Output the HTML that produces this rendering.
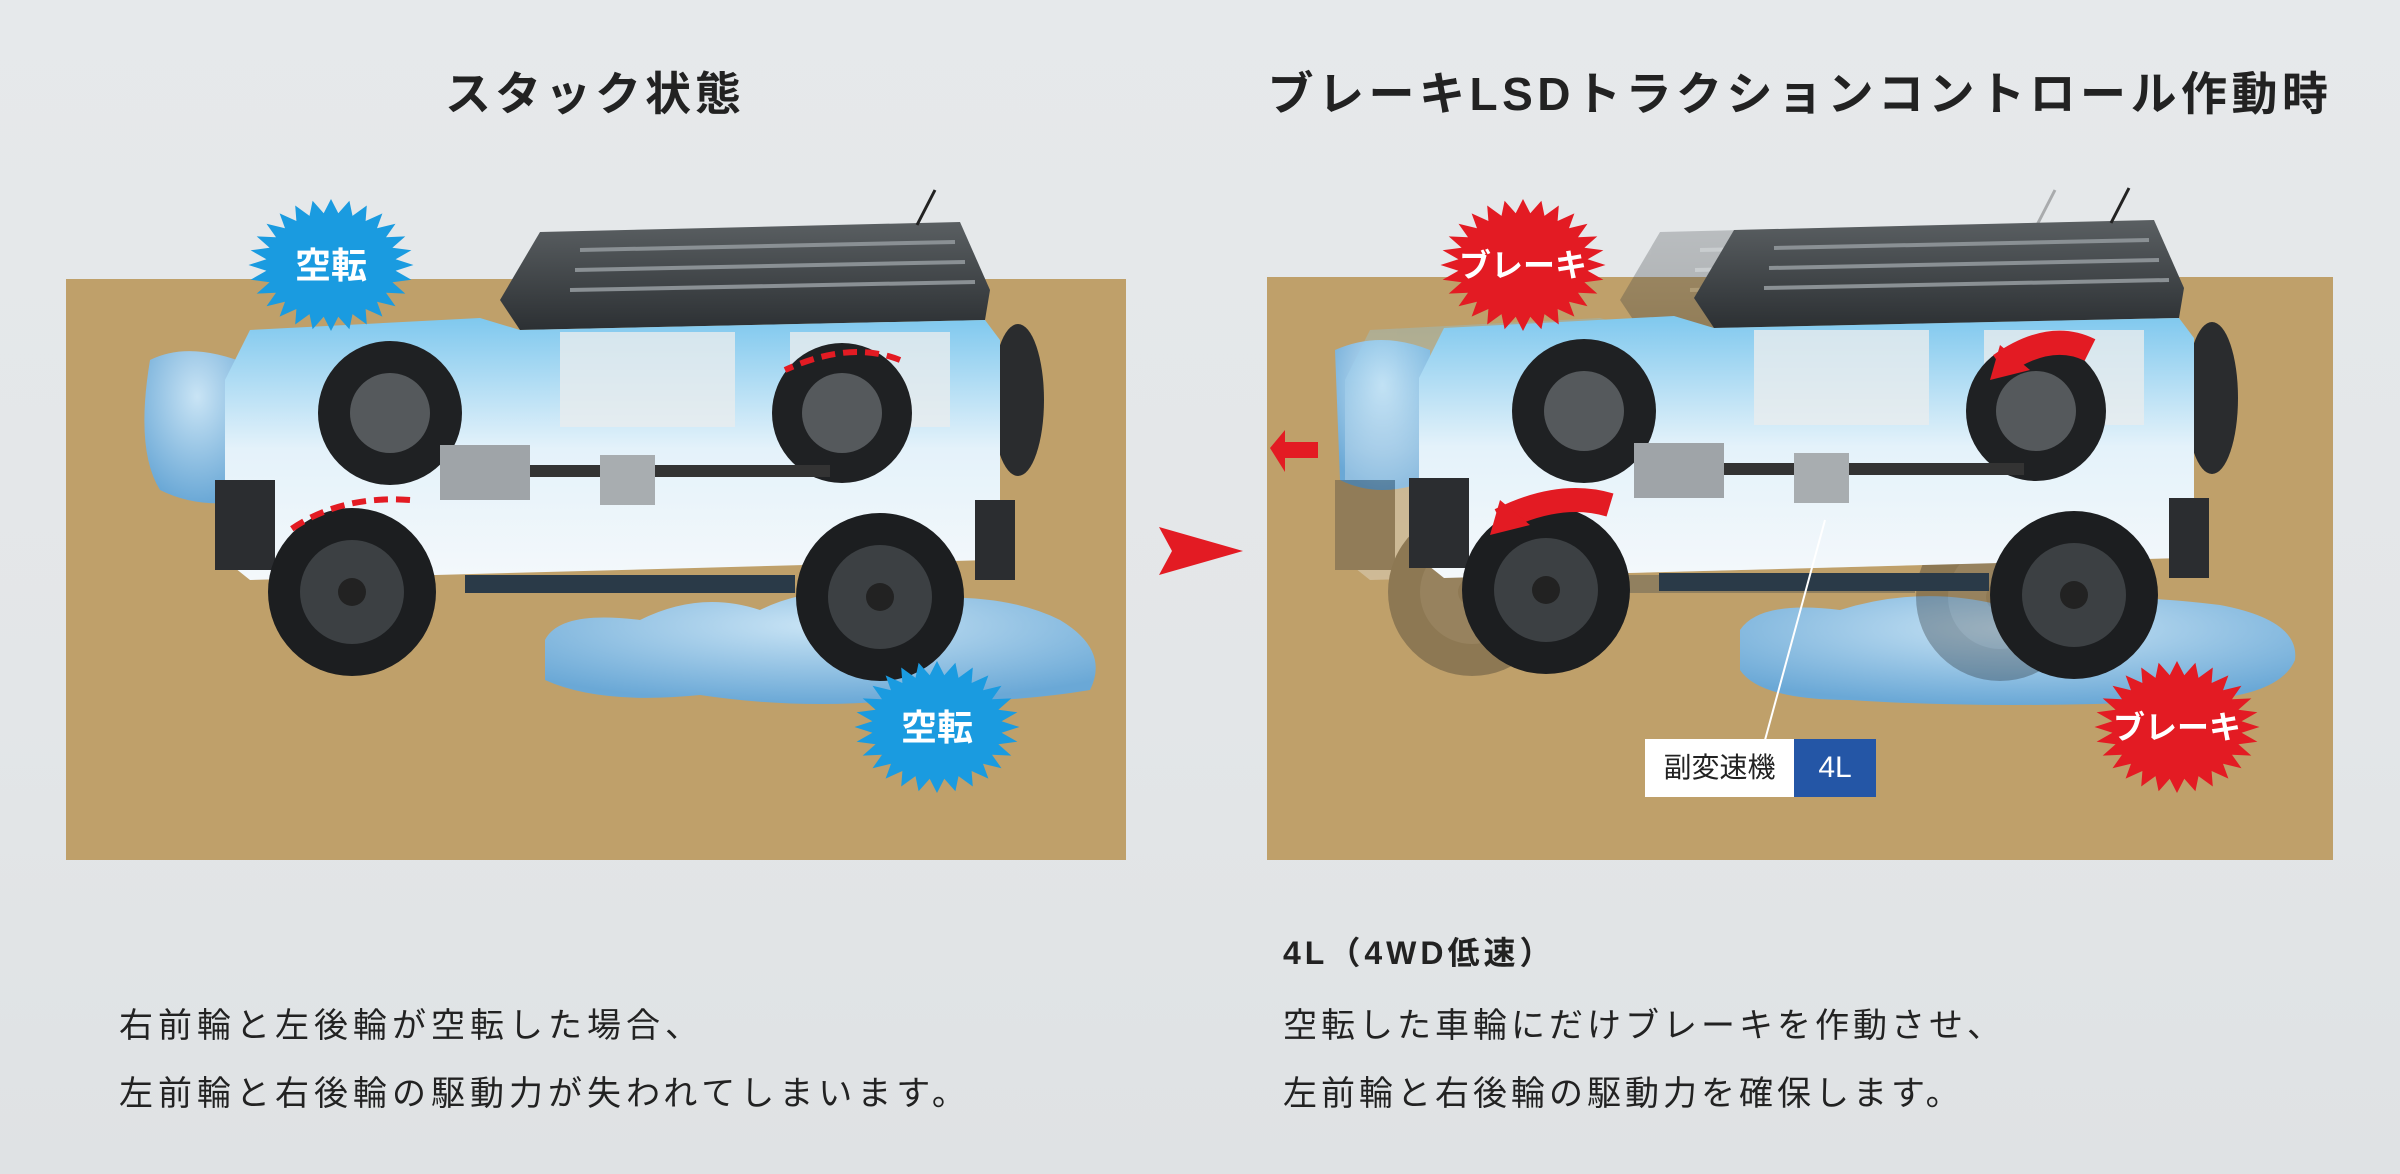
<!DOCTYPE html>
<html><head><meta charset="utf-8"><style>
html,body{margin:0;padding:0}
body{width:2400px;height:1174px;overflow:hidden;background:linear-gradient(180deg,#e6e9eb 0%,#e3e6e8 60%,#dfe2e4 100%);font-family:"Liberation Sans","Noto Sans CJK JP",sans-serif;position:relative}
.t{position:absolute;color:#222;white-space:nowrap}
</style></head><body>
<svg width="2400" height="1174" style="position:absolute;left:0;top:0">
<defs>
<linearGradient id="bodyg" x1="0" y1="0" x2="0" y2="1"><stop offset="0" stop-color="#7fc8ee"/><stop offset="0.5" stop-color="#e4f2fa"/><stop offset="1" stop-color="#f4f8fb"/></linearGradient>
<linearGradient id="roofg" x1="0" y1="0" x2="0" y2="1"><stop offset="0" stop-color="#5a5f62"/><stop offset="1" stop-color="#2c3033"/></linearGradient>
<radialGradient id="waterg" cx="0.5" cy="0.3" r="0.7"><stop offset="0" stop-color="#c9e4f5"/><stop offset="1" stop-color="#6aa8d6"/></radialGradient>
<g id="car">
  <ellipse cx="1018" cy="400" rx="26" ry="76" fill="#2a2c2e"/>
  <path d="M540 232 L960 222 L990 290 L985 320 L520 330 L500 300 Z" fill="url(#roofg)"/>
  <g stroke="#8a9094" stroke-width="4"><line x1="580" y1="250" x2="955" y2="242"/><line x1="575" y1="270" x2="965" y2="262"/><line x1="570" y1="290" x2="975" y2="282"/></g>
  <line x1="917" y1="225" x2="935" y2="190" stroke="#222" stroke-width="3"/>
  <path d="M250 330 L480 318 L520 330 L985 320 L1000 340 L1000 520 L990 560 L250 580 L225 560 L225 380 Z" fill="url(#bodyg)"/>
  <rect x="465" y="575" width="330" height="18" fill="#2a3a48"/>
  <rect x="215" y="480" width="60" height="90" fill="#2b2d30"/>
  <rect x="975" y="500" width="40" height="80" fill="#2b2d30"/>
  <rect x="560" y="332" width="175" height="95" fill="#e8ecee" opacity="0.8"/>
  <rect x="790" y="332" width="160" height="95" fill="#e8ecee" opacity="0.8"/>
  <circle cx="390" cy="413" r="72" fill="#1f2123"/><circle cx="390" cy="413" r="40" fill="#55595c"/>
  <circle cx="842" cy="413" r="70" fill="#1f2123"/><circle cx="842" cy="413" r="40" fill="#55595c"/>
  <rect x="440" y="445" width="90" height="55" fill="#9fa4a8"/>
  <rect x="530" y="465" width="300" height="12" fill="#333"/>
  <rect x="600" y="455" width="55" height="50" fill="#a8adb0"/>
  <circle cx="352" cy="592" r="84" fill="#1c1e20"/><circle cx="352" cy="592" r="52" fill="#3c4043"/><circle cx="352" cy="592" r="14" fill="#222"/>
  <circle cx="880" cy="597" r="84" fill="#1c1e20"/><circle cx="880" cy="597" r="52" fill="#3c4043"/><circle cx="880" cy="597" r="14" fill="#222"/>
</g>
</defs>
<rect x="66" y="279" width="1060" height="581" fill="#bfa06a"/>
<rect x="1267" y="277" width="1066" height="583" fill="#bfa06a"/>
<path d="M150 360 Q190 340 250 365 L250 500 Q200 510 160 490 Q135 450 150 360Z" fill="url(#waterg)"/>
<path d="M545 640 Q560 610 640 620 Q700 590 760 610 Q820 580 900 600 Q1000 590 1060 620 Q1110 650 1090 690 Q1000 705 900 700 Q800 710 700 695 Q600 705 545 680Z" fill="url(#waterg)"/>
<use href="#car"/>
<path d="M900 360 Q850 340 785 370" stroke="#e31b23" stroke-width="6" fill="none" stroke-dasharray="14 8"/>
<path d="M410 500 Q340 495 290 530" stroke="#e31b23" stroke-width="6" fill="none" stroke-dasharray="14 8"/>
<path d="M1335 350 Q1380 330 1430 350 L1430 480 Q1380 500 1340 480Z" fill="url(#waterg)"/>
<path d="M1740 630 Q1760 600 1840 610 Q1920 585 2000 605 Q2100 590 2220 605 Q2300 620 2295 660 Q2280 695 2200 700 Q2000 710 1850 700 Q1760 700 1740 670Z" fill="url(#waterg)"/>
<g opacity="0.3" transform="translate(1120,0)"><use href="#car"/></g>
<g transform="translate(1194,-2)"><use href="#car"/></g>
<polygon points="1318,442 1285,442 1285,430 1270,448 1285,472 1285,458 1318,458" fill="#e31b23"/>
<path d="M2000 365 Q2050 330 2090 350" stroke="#e31b23" stroke-width="24" fill="none"/>
<polygon points="2000,345 1990,380 2030,370" fill="#e31b23"/>
<path d="M1500 520 Q1560 490 1610 505" stroke="#e31b23" stroke-width="24" fill="none"/>
<polygon points="1500,500 1490,535 1530,525" fill="#e31b23"/>
<polygon points="1159,527 1243,551 1159,575 1172,551" fill="#e31b23"/>
<line x1="1825" y1="520" x2="1765" y2="740" stroke="#fff" stroke-width="2"/>
<g id="stars"></g>
</svg>
<div class="t" style="left:0;width:1190px;text-align:center;top:58px;font-size:46px;font-weight:bold;letter-spacing:4px">スタック状態</div>
<div class="t" style="left:1260px;width:1080px;text-align:center;top:58px;font-size:46px;font-weight:bold;letter-spacing:4.5px">ブレーキLSDトラクションコントロール作動時</div>
<div class="t" style="left:1645px;top:739px;width:149px;height:58px;background:#fff;font-size:28px;line-height:58px;text-align:center">副変速機</div>
<div class="t" style="left:1794px;top:739px;width:82px;height:58px;background:#2456a6;color:#fff;font-size:30px;line-height:58px;text-align:center">4L</div>
<div class="t" style="left:119px;top:992px;font-size:34px;line-height:68px;letter-spacing:5px">右前輪と左後輪が空転した場合、<br>左前輪と右後輪の駆動力が失われてしまいます。</div>
<div class="t" style="left:1283px;top:928px;font-size:32px;font-weight:bold;letter-spacing:4px">4L（4WD低速）</div>
<div class="t" style="left:1283px;top:992px;font-size:34px;line-height:68px;letter-spacing:4px">空転した車輪にだけブレーキを作動させ、<br>左前輪と右後輪の駆動力を確保します。</div>
<script>
var ns="http://www.w3.org/2000/svg",g=document.getElementById("stars");
function star(cx,cy,ro,ri,n,col,txt,fs){var p=[];for(var i=0;i<2*n;i++){var r=i%2?ri:ro,a=Math.PI*i/n;p.push((cx+r*Math.cos(a)*1.25).toFixed(1)+","+(cy+r*Math.sin(a)).toFixed(1));}
var pg=document.createElementNS(ns,"polygon");pg.setAttribute("points",p.join(" "));pg.setAttribute("fill",col);g.appendChild(pg);
var t=document.createElementNS(ns,"text");t.setAttribute("x",cx);t.setAttribute("y",cy+fs*0.36);t.setAttribute("text-anchor","middle");t.setAttribute("font-size",fs);t.setAttribute("font-weight","bold");t.setAttribute("fill","#fff");t.setAttribute("font-family","Liberation Sans, Noto Sans CJK JP, sans-serif");t.textContent=txt;g.appendChild(t);}
star(331,265,66,52,28,"#1a9be0","空転",36);
star(937,727,66,52,28,"#1a9be0","空転",36);
star(1523,265,66,52,28,"#e31b23","ブレーキ",32);
star(2177,727,66,52,28,"#e31b23","ブレーキ",32);
</script>
</body></html>
